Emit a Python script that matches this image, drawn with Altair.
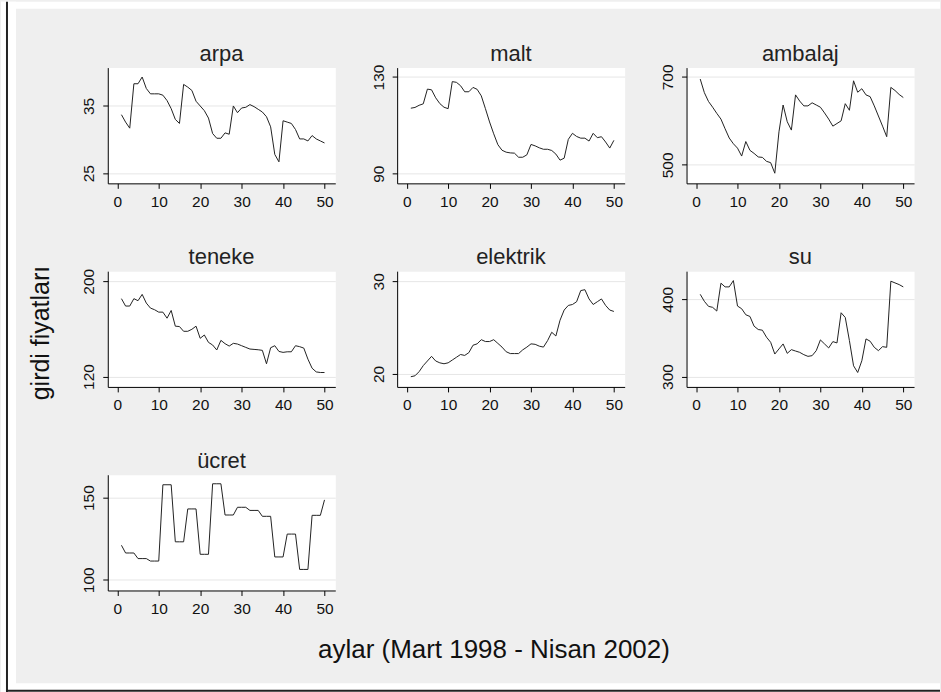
import altair as alt
import pandas as pd

# Monthly input prices, months 1..50 (March 1998 - April 2002)
months = list(range(1, 51))

arpa = [33.7, 32.6, 31.7, 38.3, 38.3, 39.3, 37.6, 36.8, 36.8, 36.8,
        36.6, 35.8, 34.6, 33.0, 32.4, 38.2, 37.8, 37.3, 35.7, 35.0,
        34.3, 33.2, 30.9, 30.2, 30.2, 31.0, 30.8, 35.0, 34.0, 34.7,
        34.8, 35.2, 34.9, 34.5, 34.1, 33.4, 31.9, 27.8, 26.7, 32.8,
        32.6, 32.4, 31.5, 30.1, 30.1, 29.8, 30.6, 30.1, 29.8, 29.5]

malt = [117.1, 117.4, 118.3, 118.9, 125.0, 124.7, 121.4, 119.0, 117.5, 116.9,
        128.1, 127.8, 126.4, 123.9, 123.9, 125.7, 124.9, 122.2, 116.9, 111.4,
        106.5, 102.0, 99.7, 98.9, 98.6, 98.5, 96.8, 96.8, 97.8, 102.1,
        101.5, 100.7, 100.1, 100.1, 99.6, 98.1, 95.6, 96.4, 104.2, 106.7,
        105.4, 104.7, 104.7, 103.5, 106.7, 104.9, 105.3, 103.1, 100.6, 103.8]

ambalaj = [695, 664, 644, 631, 617, 604, 582, 561, 548, 538,
           520, 553, 533, 526, 518, 517, 508, 505, 481, 575,
           636, 598, 579, 659, 645, 634, 634, 641, 636, 631,
           618, 604, 588, 594, 600, 639, 624, 691, 665, 673,
           659, 655, 634, 611, 588, 564, 676, 669, 660, 653]

teneke = [185.4, 179.2, 179.2, 185.4, 183.7, 189.0, 181.7, 177.5, 176.1, 174.1,
          174.1, 169.0, 175.5, 162.3, 162.0, 158.0, 158.0, 159.7, 162.3, 152.1,
          154.9, 148.7, 146.5, 142.3, 150.4, 147.6, 145.6, 147.9, 147.3, 145.9,
          144.5, 143.1, 142.8, 142.5, 142.0, 130.7, 144.2, 145.9, 141.1, 140.3,
          140.8, 140.8, 145.9, 145.1, 143.9, 134.6, 127.0, 123.9, 123.4, 123.4]

elektrik = [19.7, 19.8, 20.25, 20.9, 21.4, 21.9, 21.4, 21.2, 21.1, 21.2,
            21.5, 21.8, 22.1, 22.0, 22.3, 23.1, 23.25, 23.7, 23.5, 23.5,
            23.7, 23.3, 22.9, 22.4, 22.2, 22.2, 22.2, 22.6, 22.9, 23.25,
            23.2, 23.0, 22.9, 23.6, 24.5, 24.1, 25.8, 26.9, 27.4, 27.5,
            27.8, 29.0, 29.1, 28.1, 27.5, 27.8, 28.1, 27.4, 26.9, 26.75]

su = [406.5, 397.4, 390.9, 389.6, 384.8, 420.9, 416.1, 416.1, 424.3, 391.3,
      387.8, 380.0, 377.8, 365.2, 360.9, 360.0, 350.9, 344.3, 329.1, 335.7,
      342.2, 330.0, 334.8, 333.0, 331.3, 328.3, 326.1, 327.0, 333.5, 347.4,
      342.2, 337.0, 345.2, 343.5, 382.6, 376.5, 346.5, 313.9, 305.2, 320.4,
      348.7, 345.7, 337.8, 333.5, 338.7, 337.8, 423.5, 421.3, 419.1, 416.1]

ucret = [121.0, 116.3, 116.3, 116.3, 112.9, 112.9, 112.9, 111.4, 111.4, 111.4,
         157.8, 157.8, 157.8, 123.1, 123.1, 123.1, 143.1, 143.1, 143.1, 115.5,
         115.5, 115.5, 158.4, 158.4, 158.4, 139.4, 139.4, 139.4, 144.1, 144.1,
         144.1, 142.2, 142.2, 142.2, 138.6, 138.6, 138.6, 113.9, 113.9, 113.9,
         127.8, 127.8, 127.8, 106.3, 106.3, 106.3, 139.2, 139.2, 139.2, 148.6]

panel_names = ["arpa", "malt", "ambalaj", "teneke", "elektrik", "su", "ücret"]
panel_series = [arpa, malt, ambalaj, teneke, elektrik, su, ucret]
y_ticks = [[25, 35], [90, 130], [500, 700], [120, 200], [20, 30], [300, 400], [100, 150]]
y_domains = [[23.5, 40.7], [86.0, 133.9], [458, 721], [111.3, 208.5],
             [18.6, 31.1], [286.5, 436.5], [93.5, 163.9]]
x_ticks = [0, 10, 20, 30, 40, 50]
x_domain = [-2.3, 52.6]

x_title = "aylar (Mart 1998 - Nisan 2002)"
y_title = "girdi fiyatları"

FONT = "Liberation Sans"
INK = "#111111"
PANEL_W, PANEL_H = 228, 116
COL_GAP, ROW_GAP = 62, 88
PAGE_W, PAGE_H = 941, 692
# top-left corner of the first panel on the page
X0, Y0 = 107, 66
# the page furniture lives in an empty grid cell (row 3, column 2)
OX = X0 + (PANEL_W + COL_GAP)
OY = Y0 + 2 * (PANEL_H + ROW_GAP)

one = pd.DataFrame({"k": [0]})


def panel(name, values, ticks, domain):
    df = pd.DataFrame({"ay": months, "fiyat": values})
    line = alt.Chart(df).mark_line(color="#222222", strokeWidth=1).encode(
        x=alt.X("ay:Q", scale=alt.Scale(domain=x_domain, nice=False, zero=False),
                axis=alt.Axis(values=x_ticks, title=None, grid=False, format="d")),
        y=alt.Y("fiyat:Q", scale=alt.Scale(domain=domain, nice=False, zero=False),
                axis=alt.Axis(values=ticks, title=None, grid=True, format="d",
                              labelAngle=270, labelAlign="center",
                              labelBaseline="alphabetic", labelPadding=9)),
    )
    # panel heading, centred just above the plot area
    heading = alt.Chart(one).mark_text(
        align="center", baseline="alphabetic", font=FONT, fontSize=22, color="#222222"
    ).encode(x=alt.value(PANEL_W / 2), y=alt.value(-7), text=alt.value(name))
    return alt.layer(line, heading).properties(width=PANEL_W, height=PANEL_H)


def box(x0, x1, y0, y1, color):
    return alt.Chart(one).mark_rect(color=color).encode(
        x=alt.value(x0 - OX), x2=alt.value(x1 - OX),
        y=alt.value(y0 - OY), y2=alt.value(y1 - OY))


# outer white margin and dark frame lines of the page
frame = [
    box(0, PAGE_W, 0, 7, "white"),
    box(0, 15, 0, PAGE_H, "white"),
    box(0, PAGE_W, 683, PAGE_H, "white"),
    box(5, 7, 0, PAGE_H, "#222222"),
    box(5, PAGE_W, 689.5, 691.5, "#222222"),
]

# shared axis titles
titles = [
    alt.Chart(one).mark_text(angle=270, align="center", baseline="alphabetic",
                             font=FONT, fontSize=25, color=INK).encode(
        x=alt.value(48 - OX), y=alt.value(332 - OY), text=alt.value(y_title)),
    alt.Chart(one).mark_text(align="center", baseline="alphabetic",
                             font=FONT, fontSize=26, color=INK).encode(
        x=alt.value(494 - OX), y=alt.value(658 - OY), text=alt.value(x_title)),
]

furniture = alt.layer(*frame, *titles).properties(
    width=PANEL_W, height=PANEL_H,
    view=alt.ViewBackground(fill="transparent", stroke="transparent"),
)

charts = [panel(*args) for args in zip(panel_names, panel_series, y_ticks, y_domains)]
charts.append(furniture)

chart = alt.concat(
    *charts, columns=3, bounds="flush",
    spacing={"row": ROW_GAP, "column": COL_GAP}, padding=0,
).configure(
    background="#efefef",
).configure_view(
    fill="white", stroke="transparent",
).configure_axis(
    domainColor="black", domainWidth=1, tickColor="black", tickWidth=1, tickSize=5,
    labelFont=FONT, labelFontSize=15.5, labelColor=INK, labelFlush=False,
    labelOverlap=False, gridColor="#e6e6e6", gridWidth=1, zindex=1,
).configure_axisX(
    labelPadding=6,
)

chart.save("out.html", embed_options={"renderer": "svg", "actions": False})
